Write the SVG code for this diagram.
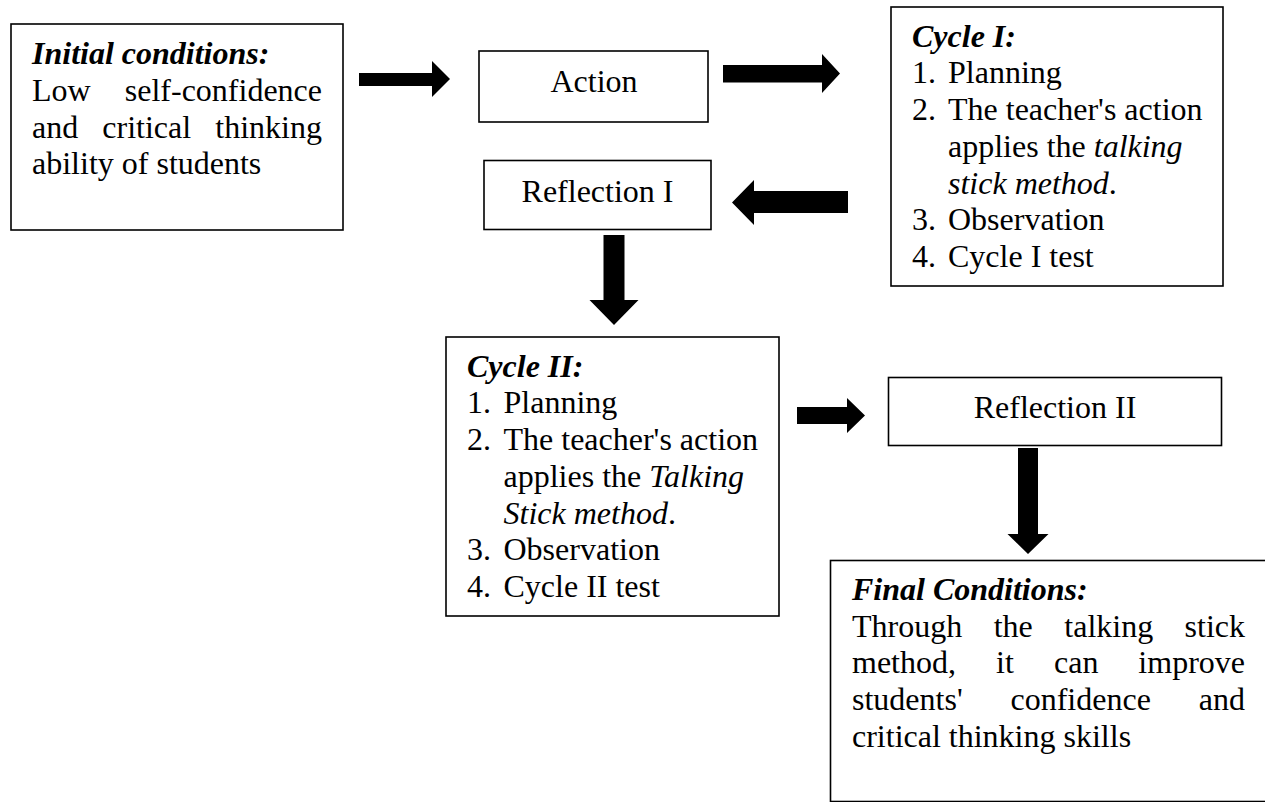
<svg xmlns="http://www.w3.org/2000/svg" width="1265" height="802" viewBox="0 0 1265 802">
  <style>
    .box { fill: #ffffff; stroke: #000000; stroke-width: 1.6; }
    .t { font-family: "Liberation Serif", "Times New Roman", serif; font-size: 32px; fill: #000000; }
    .c { text-anchor: middle; }
    .e { text-anchor: end; }
    .bi { font-weight: bold; font-style: italic; }
    .i { font-style: italic; }
    .arrow { fill: #000000; stroke: none; }
  </style>
  <rect x="0" y="0" width="1265" height="802" fill="#ffffff"/>

  <g id="connectors">
    <polygon class="arrow" points="359,73 432,73 432,61 450,79 432,97 432,86 359,86"/>
    <polygon class="arrow" points="723,65 822,65 822,54 840,73.5 822,93 822,82.5 723,82.5"/>
    <polygon class="arrow" points="848,191 754,191 754,180 732,202.5 754,225 754,213 848,213"/>
    <polygon class="arrow" points="603.5,235 624.5,235 624.5,300 638.5,300 614,325 589.5,300 603.5,300"/>
    <polygon class="arrow" points="797,407 847,407 847,398 865,415.5 847,433 847,424 797,424"/>
    <polygon class="arrow" points="1018,448 1038,448 1038,534 1048.5,534 1028,554 1007.5,534 1018,534"/>
  </g>

  <g id="initial">
    <rect class="box" x="11" y="24" width="332" height="206"/>
    <text class="t bi" x="32" y="64.3">Initial conditions:</text>
    <text class="t" x="32" y="101">Low</text>
    <text class="t e" x="322" y="101">self-confidence</text>
    <text class="t" x="32" y="137.7">and</text>
    <text class="t" x="102.3" y="137.7">critical</text>
    <text class="t e" x="322" y="137.7">thinking</text>
    <text class="t" x="32" y="174.4">ability of students</text>
  </g>

  <g id="action">
    <rect class="box" x="479" y="51" width="229" height="71"/>
    <text class="t c" x="594" y="92">Action</text>
  </g>

  <g id="cycle1">
    <rect class="box" x="891" y="7" width="332" height="279"/>
    <text class="t bi" x="912" y="46.7">Cycle I:</text>
    <text class="t" x="912" y="83.4">1.</text>
    <text class="t" x="948" y="83.4">Planning</text>
    <text class="t" x="912" y="120.1">2.</text>
    <text class="t" x="948" y="120.1">The teacher's action</text>
    <text class="t" x="948" y="156.8">applies the <tspan class="i">talking</tspan></text>
    <text class="t" x="948" y="193.5"><tspan class="i">stick method</tspan>.</text>
    <text class="t" x="912" y="230.2">3.</text>
    <text class="t" x="948" y="230.2">Observation</text>
    <text class="t" x="912" y="266.9">4.</text>
    <text class="t" x="948" y="266.9">Cycle I test</text>
  </g>

  <g id="reflection1">
    <rect class="box" x="484" y="160.5" width="227" height="69"/>
    <text class="t c" x="597.5" y="201.7">Reflection I</text>
  </g>

  <g id="cycle2">
    <rect class="box" x="446" y="337" width="333" height="279"/>
    <text class="t bi" x="467" y="376.7">Cycle II:</text>
    <text class="t" x="467" y="413.4">1.</text>
    <text class="t" x="503.5" y="413.4">Planning</text>
    <text class="t" x="467" y="450.1">2.</text>
    <text class="t" x="503.5" y="450.1">The teacher's action</text>
    <text class="t" x="503.5" y="486.8">applies the <tspan class="i">Talking</tspan></text>
    <text class="t" x="503.5" y="523.5"><tspan class="i">Stick method</tspan>.</text>
    <text class="t" x="467" y="560.2">3.</text>
    <text class="t" x="503.5" y="560.2">Observation</text>
    <text class="t" x="467" y="596.9">4.</text>
    <text class="t" x="503.5" y="596.9">Cycle II test</text>
  </g>

  <g id="reflection2">
    <rect class="box" x="888.5" y="377.5" width="333" height="68"/>
    <text class="t c" x="1055" y="418.3">Reflection II</text>
  </g>

  <g id="final">
    <rect class="box" x="830.5" y="560.5" width="500" height="241"/>
    <text class="t bi" x="852" y="600">Final Conditions:</text>
    <text class="t" x="852" y="636.7">Through</text>
    <text class="t" x="993.7" y="636.7">the</text>
    <text class="t" x="1064.3" y="636.7">talking</text>
    <text class="t e" x="1245" y="636.7">stick</text>
    <text class="t" x="852" y="673.4">method,</text>
    <text class="t" x="996" y="673.4">it</text>
    <text class="t" x="1054" y="673.4">can</text>
    <text class="t e" x="1245" y="673.4">improve</text>
    <text class="t" x="852" y="710.1">students'</text>
    <text class="t" x="1010.5" y="710.1">confidence</text>
    <text class="t e" x="1245" y="710.1">and</text>
    <text class="t" x="852" y="746.8">critical thinking skills</text>
  </g>
</svg>
